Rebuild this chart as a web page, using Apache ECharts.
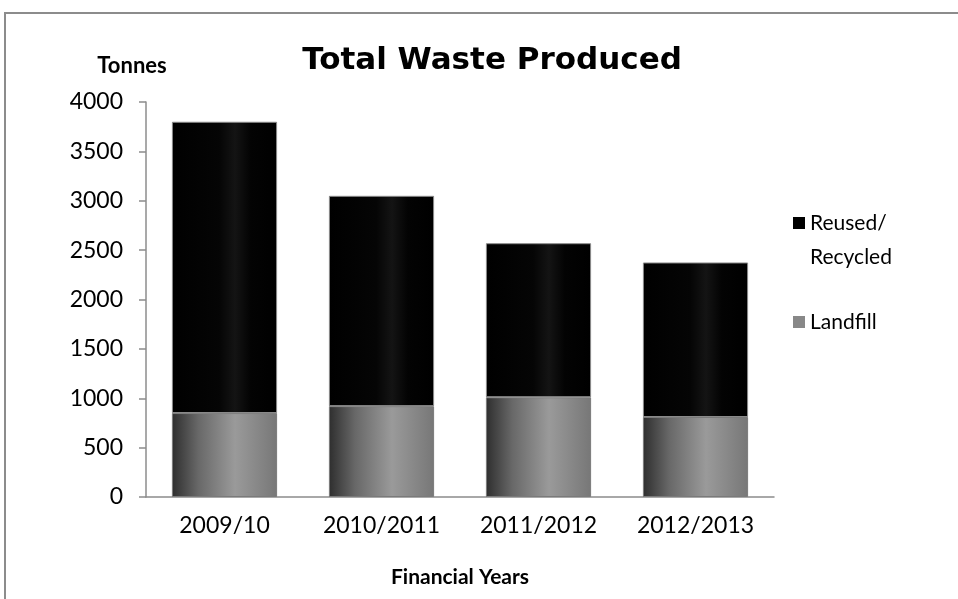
<!DOCTYPE html>
<html>
<head>
<meta charset="utf-8">
<style>
  html, body { margin: 0; padding: 0; background: #fff; }
  #chart { width: 958px; height: 599px; }
</style>
<script src="https://cdn.jsdelivr.net/npm/echarts@6/dist/echarts.min.js"></script>
</head>
<body>
<div id="chart"></div>
<script>
const categories = ['2009/10', '2010/2011', '2011/2012', '2012/2013'];
const landfill = [850, 920, 1010, 810];
const recycled = [2950, 2130, 1560, 1565];
const yTicks = [0, 500, 1000, 1500, 2000, 2500, 3000, 3500, 4000];
const seriesNames = ['Reused/Recycled', 'Landfill'];

const FONT = 'Lato';

const chart = echarts.init(document.getElementById('chart'));

function grad(stops) {
  return new echarts.graphic.LinearGradient(0, 0, 1, 0, stops);
}

chart.setOption({
  animation: false,
  backgroundColor: '#fff',
  graphic: [{
    type: 'rect',
    shape: { x: 5, y: 13, width: 1000, height: 700 },
    style: { fill: 'none', stroke: '#8c8c8c', lineWidth: 2 },
    silent: true
  }],
  title: {
    text: 'Total Waste Produced',
    left: 487,
    top: 40,
    textAlign: 'center',
    textStyle: { fontFamily: 'DejaVu Sans', fontSize: 31, fontWeight: 'bold', color: '#000' }
  },
  legend: {
    orient: 'vertical',
    left: 793,
    top: 172,
    padding: 0,
    itemWidth: 12,
    itemHeight: 12,
    itemGap: 31,
    icon: 'rect',
    textStyle: { fontFamily: FONT, fontSize: 21, color: '#000', lineHeight: 34 },
    formatter: name => (name === seriesNames[0] ? ' \nReused/\nRecycled' : name),
    data: [
      { name: seriesNames[0], itemStyle: { color: '#000', borderWidth: 0 } },
      { name: seriesNames[1], itemStyle: { color: '#888', borderWidth: 0 } }
    ]
  },
  grid: { left: 146, right: 184, top: 102, bottom: 102, containLabel: false },
  xAxis: {
    type: 'category',
    data: categories,
    name: 'Financial Years',
    nameLocation: 'middle',
    nameGap: 70,
    nameTextStyle: { fontFamily: FONT, fontSize: 21, fontWeight: 'bold', color: '#000' },
    axisLine: { lineStyle: { color: '#8c8c8c', width: 1.5 } },
    axisTick: { length: 7, lineStyle: { color: '#8c8c8c', width: 1.5 } },
    axisLabel: { fontFamily: FONT, fontSize: 23, color: '#000', margin: 17 }
  },
  yAxis: {
    type: 'value',
    min: 0,
    max: 4000,
    interval: 500,
    name: 'Tonnes',
    nameLocation: 'end',
    nameGap: 25,
    nameTextStyle: { fontFamily: FONT, fontSize: 22, fontWeight: 'bold', color: '#000', align: 'center', padding: [0, 28, 0, 0] },
    axisLine: { show: true, lineStyle: { color: '#8c8c8c', width: 1.5 } },
    axisTick: { show: true, length: 7, lineStyle: { color: '#8c8c8c', width: 1.5 } },
    splitLine: { show: false },
    axisLabel: {
      fontFamily: FONT, fontSize: 23, color: '#000', margin: 23,
      formatter: v => (yTicks.indexOf(v) >= 0 ? String(v) : '')
    }
  },
  series: [
    {
      name: seriesNames[1],
      type: 'bar',
      stack: 'total',
      data: landfill,
      barCategoryGap: '33%',
      itemStyle: {
        color: grad([
          { offset: 0, color: '#2e2e2e' },
          { offset: 0.25, color: '#686868' },
          { offset: 0.6, color: '#9a9a9a' },
          { offset: 1, color: '#777777' }
        ]),
        borderColor: '#7a7a7a',
        borderWidth: 1
      }
    },
    {
      name: seriesNames[0],
      type: 'bar',
      stack: 'total',
      data: recycled,
      barCategoryGap: '33%',
      itemStyle: {
        color: grad([
          { offset: 0, color: '#000000' },
          { offset: 0.45, color: '#050505' },
          { offset: 0.6, color: '#141414' },
          { offset: 0.75, color: '#030303' },
          { offset: 1, color: '#000000' }
        ]),
        borderColor: '#8a8a8a',
        borderWidth: 1
      }
    }
  ]
});
</script>
</body>
</html>
